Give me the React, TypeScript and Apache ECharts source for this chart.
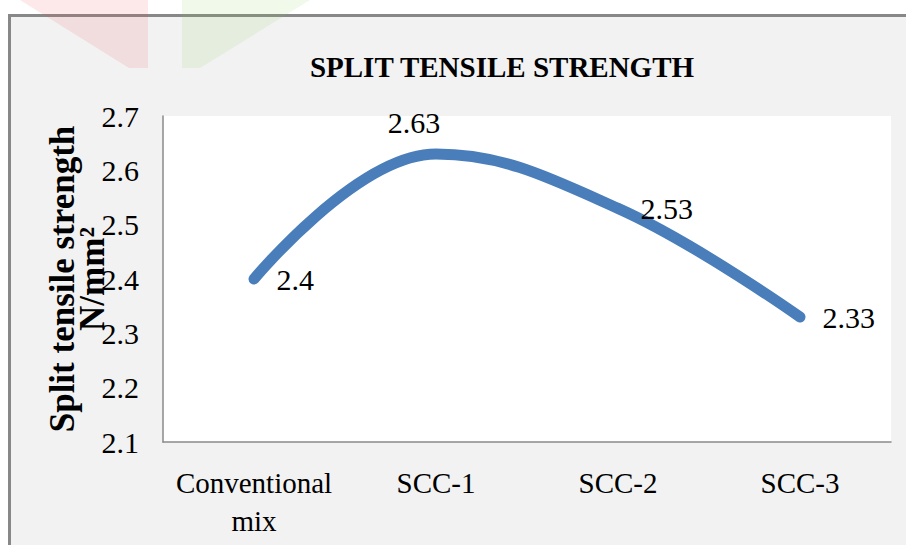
import React, { useEffect, useRef } from "react";
import * as echarts from "echarts";

const titleText = "SPLIT TENSILE STRENGTH";
const yAxisName = "Split tensile strength\nN/mm²";
const categories = ["Conventional mix", "SCC-1", "SCC-2", "SCC-3"];
const values = [2.4, 2.63, 2.53, 2.33];
const yMin = 2.1;
const yMax = 2.7;
const yInterval = 0.1;

const FONT = "'Liberation Serif', serif";

export default function App() {
  const ref = useRef<HTMLDivElement>(null);

  useEffect(() => {
    document.body.style.margin = "0";
    if (!ref.current) return;
    const chart = echarts.init(ref.current, undefined, { renderer: "svg" });
    const data = values.map((v, i) =>
      i === 1
        ? { value: v, label: { position: "top", offset: [-22, 6] } }
        : { value: v }
    );
    chart.setOption({
      animation: false,
      backgroundColor: "transparent",
      textStyle: { fontFamily: FONT },
      title: {
        text: titleText,
        left: 497,
        top: 47,
        textAlign: "center",
        textStyle: {
          fontFamily: FONT,
          fontSize: 29,
          fontWeight: "bold",
          color: "#000",
        },
      },
      grid: {
        left: 163,
        top: 116,
        right: 15,
        bottom: 103,
        show: true,
        backgroundColor: "#ffffff",
        borderWidth: 0,
      },
      xAxis: {
        type: "category",
        data: categories,
        boundaryGap: true,
        axisLine: { show: true, lineStyle: { color: "#8a8a8a", width: 1.5 } },
        axisTick: { show: false },
        axisLabel: {
          fontFamily: FONT,
          fontWeight: "normal",
          fontSize: 29,
          color: "#000",
          lineHeight: 38,
          margin: 22,
          interval: 0,
          formatter: (v: string) => v.replace(" ", "\n"),
        },
      },
      yAxis: {
        type: "value",
        min: yMin,
        max: yMax,
        interval: yInterval,
        name: yAxisName,
        nameLocation: "middle",
        nameRotate: 90,
        nameGap: 56,
        nameMoveOverlap: false,
        nameTextStyle: {
          fontFamily: FONT,
          fontSize: 35,
          fontWeight: "bold",
          color: "#000",
          lineHeight: 30,
        },
        axisLine: { show: true, lineStyle: { color: "#8a8a8a", width: 1.5 } },
        axisTick: { show: false },
        splitLine: { show: false },
        axisLabel: {
          fontFamily: FONT,
          fontWeight: "normal",
          fontSize: 30,
          color: "#000",
          margin: 24,
          formatter: (v: number) => String(Math.round(v * 10) / 10),
        },
      },
      series: [
        {
          type: "line",
          data,
          smooth: 0.4,
          symbol: "circle",
          symbolSize: 1,
          itemStyle: { color: "#4a7ebb" },
          lineStyle: { color: "#4a7ebb", width: 11, cap: "round", join: "round" },
          label: {
            show: true,
            position: "right",
            distance: 22,
            fontFamily: FONT,
            fontWeight: "normal",
            fontSize: 30,
            color: "#000",
          },
        },
      ],
      graphic: [
        {
          type: "polygon",
          z: 100,
          silent: true,
          shape: { points: [[20, 0], [148, 0], [148, 68], [129, 68]] },
          style: { fill: "rgba(235,70,70,0.12)" },
        },
        {
          type: "polygon",
          z: 100,
          silent: true,
          shape: { points: [[182, 0], [310, 0], [200, 68], [182, 68]] },
          style: { fill: "rgba(120,200,60,0.11)" },
        },
      ],
    });
    return () => chart.dispose();
  }, []);

  return (
    <div
      style={{
        position: "absolute",
        left: 0,
        top: 0,
        width: 906,
        height: 545,
        overflow: "hidden",
        background: "#ffffff",
      }}
    >
      <div
        style={{
          position: "absolute",
          left: 8,
          top: 14,
          width: 1000,
          height: 600,
          border: "3px solid #888888",
          background: "#f2f2f2",
          boxSizing: "border-box",
        }}
      />
      <div
        ref={ref}
        style={{ position: "absolute", left: 0, top: 0, width: 906, height: 545 }}
      />
    </div>
  );
}
